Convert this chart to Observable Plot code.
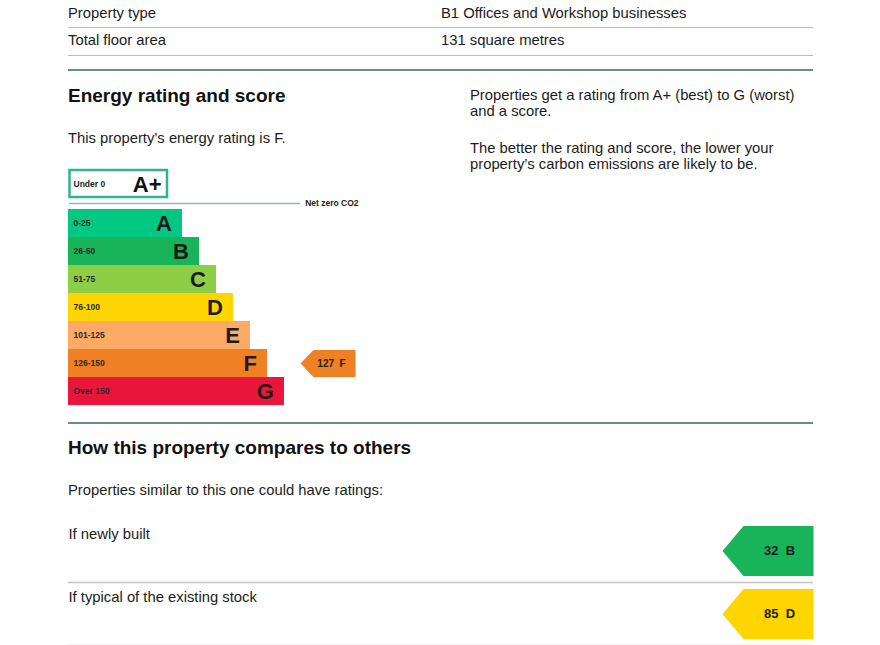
<!DOCTYPE html>
<html>
<head>
<meta charset="utf-8">
<script src="https://cdn.jsdelivr.net/npm/d3@7"></script>
<script src="https://cdn.jsdelivr.net/npm/@observablehq/plot@0.6"></script>
<style>
  html, body { margin: 0; padding: 0; background: #fff; }
  #page { position: relative; width: 880px; height: 645px; overflow: hidden; font-family: "Liberation Sans", Arial, sans-serif; color: #1b1b1b; }
  .t { position: absolute; font-size: 14.8px; line-height: 16px; white-space: nowrap; }
  .h { position: absolute; font-size: 19px; line-height: 22px; font-weight: bold; white-space: nowrap; color: #111; }
  .rule { position: absolute; left: 68px; width: 745px; height: 0; border-top: 1px solid #bdbdbd; }
  .sect { position: absolute; left: 68px; width: 745px; height: 0; border-top: 2px solid #6f8895; }
  .plot { position: absolute; }
  .plot svg { display: block; overflow: visible; }
</style>
</head>
<body>
<div id="page"></div>
<script>
// ---------- data ----------
const infoFields = ["Property type", "Total floor area"];
const infoValues = ["B1 Offices and Workshop businesses", "131 square metres"];

const ratings = ["A+", "A", "B", "C", "D", "E", "F", "G"];
const scoreRanges = ["Under 0", "0-25", "26-50", "51-75", "76-100", "101-125", "126-150", "Over 150"];
const bandUpper = [0, 25, 50, 75, 100, 125, 150, 175];
const ratingColors = ["#00c781", "#00c781", "#19b459", "#8dce46", "#ffd500", "#fcaa65", "#ef8023", "#e9153b"];

const currentScore = 127;
const currentRating = "F";

const scenarios = ["If newly built", "If typical of the existing stock"];
const scenarioScores = [32, 85];
const scenarioRatings = ["B", "D"];

// ---------- page text ----------
const page = document.getElementById("page");
function add(cls, text, left, top) {
  const d = document.createElement("div");
  d.className = cls;
  if (text != null) d.textContent = text;
  d.style.left = left + "px";
  d.style.top = top + "px";
  page.appendChild(d);
  return d;
}
infoFields.forEach((f, i) => {
  add("t", f, 68, 5 + i * 27);
  add("t", infoValues[i], 441, 5 + i * 27);
  add("rule", null, 68, 27 + i * 28);
});
add("sect", null, 68, 69);
add("h", "Energy rating and score", 68, 85);
add("t", "This property\u2019s energy rating is " + currentRating + ".", 68, 130);
add("t", "Properties get a rating from A+ (best) to G (worst)", 470, 87);
add("t", "and a score.", 470, 103);
add("t", "The better the rating and score, the lower your", 470, 140);
add("t", "property\u2019s carbon emissions are likely to be.", 470, 156);
add("sect", null, 68, 422);
add("h", "How this property compares to others", 68, 437);
add("t", "Properties similar to this one could have ratings:", 68, 482);

// ---------- shared ----------
const font = "Liberation Sans, Arial, sans-serif";
const colorOf = r => ratingColors[ratings.indexOf(r)];
function tagSymbol(lengthRatio, tipRatio) {
  return {
    draw(ctx, size) {
      const h = Math.sqrt(size / Math.PI);
      const w = h * lengthRatio, t = h * tipRatio;
      ctx.moveTo(0, -h);
      ctx.lineTo(0, h);
      ctx.lineTo(-w + t, h);
      ctx.lineTo(-w, 0);
      ctx.lineTo(-w + t, -h);
      ctx.closePath();
    }
  };
}

// ---------- rating chart ----------
const bands = ratings.map((r, i) => ({rating: r, range: scoreRanges[i], upper: bandUpper[i], color: ratingColors[i]}));
const aPlus = bands.filter(d => d.rating === "A+");
const mainBands = bands.filter(d => d.rating !== "A+");
const xOrigin = -142.65;
const current = [{rating: currentRating, score: currentScore, color: colorOf(currentRating)}];

const chart = Plot.plot({
  width: 292, height: 250,
  marginLeft: 0, marginRight: 0, marginTop: 0, marginBottom: 0,
  style: {fontFamily: font, background: "transparent"},
  x: {domain: [xOrigin, 286.8], range: [0, 292], axis: null},
  y: {type: "band", domain: ratings, range: [21, 245], padding: 0, axis: null},
  color: {type: "identity"},
  marks: [
    Plot.barX(mainBands, {x1: xOrigin, x2: "upper", y: "rating", fill: "color"}),
    Plot.barX(aPlus, {x1: xOrigin, x2: "upper", y: "rating", dy: -12, insetTop: 1, insetBottom: 0, insetLeft: 1.5, insetRight: -2,
      fill: "white", stroke: "#2fb58d", strokeWidth: 2.5}),
    Plot.ruleY(aPlus, {y: "rating", dy: 8, insetLeft: 1, insetRight: 60, stroke: "#8fbcb2", strokeWidth: 1.3}),
    Plot.text(aPlus, {y: "rating", dy: 8, frameAnchor: "right", textAnchor: "end", dx: -2,
      text: () => "Net zero CO2", fontSize: 8.5, fontWeight: "bold", fill: "#222"}),
    Plot.text(aPlus, {x: xOrigin, y: "rating", dy: -11, dx: 5, textAnchor: "start", text: "range",
      fontSize: 8.5, fontWeight: "bold", fill: "#222"}),
    Plot.text(aPlus, {x: "upper", y: "rating", dy: -11, dx: -4, textAnchor: "end", text: "rating",
      fontSize: 22, fontWeight: "bold", fill: "#111"}),
    Plot.text(mainBands, {x: xOrigin, y: "rating", dx: 5, textAnchor: "start", text: "range",
      fontSize: 8.5, fontWeight: "bold", fill: "#2a2a2a"}),
    Plot.text(mainBands, {x: "upper", y: "rating", dx: -10.5, textAnchor: "end", text: "rating",
      fontSize: 22, fontWeight: "bold", fill: "#1f1a1a"}),
    Plot.dot(current, {y: "rating", frameAnchor: "right", dx: -5, r: 13.5,
      symbol: tagSymbol(55 / 13.5, 13 / 13.5), fill: "color", stroke: "none"}),
    Plot.text(current, {y: "rating", frameAnchor: "right", dx: -29, textAnchor: "middle",
      text: d => d.score + "\u00a0\u00a0" + d.rating,
      fontSize: 10, fontWeight: "bold", fill: "#222"})
  ]
});
const c1 = document.createElement("div");
c1.className = "plot"; c1.style.left = "68px"; c1.style.top = "160px";
c1.appendChild(chart); page.appendChild(c1);

// ---------- comparison ----------
const comparisons = scenarios.map((s, i) => ({scenario: s, score: scenarioScores[i], rating: scenarioRatings[i], color: colorOf(scenarioRatings[i])}));
const comp = Plot.plot({
  width: 745, height: 126,
  marginLeft: 0, marginRight: 0, marginTop: 0, marginBottom: 0,
  style: {fontFamily: font, background: "transparent"},
  y: {type: "band", domain: scenarios, range: [0, 126], padding: 0, axis: null},
  color: {type: "identity"},
  marks: [
    Plot.ruleY(comparisons, {y: "scenario", dy: 31.5, stroke: "#c4c4c4", strokeWidth: 1.5}),
    Plot.text(comparisons, {y: "scenario", dy: -17, frameAnchor: "left", textAnchor: "start", text: "scenario",
      fontSize: 14.8, fill: "#1b1b1b"}),
    Plot.dot(comparisons, {y: "scenario", frameAnchor: "right", r: 25,
      symbol: tagSymbol(91 / 25, 21 / 25), fill: "color", stroke: "none"}),
    Plot.text(comparisons, {y: "scenario", frameAnchor: "right", dx: -34, textAnchor: "middle",
      text: d => d.score + "\u00a0\u00a0" + d.rating,
      fontSize: 13, fontWeight: "bold", fill: "#1b1b1b"})
  ]
});
const c2 = document.createElement("div");
c2.className = "plot"; c2.style.left = "68px"; c2.style.top = "519px";
c2.appendChild(comp); page.appendChild(c2);
</script>
</body>
</html>
